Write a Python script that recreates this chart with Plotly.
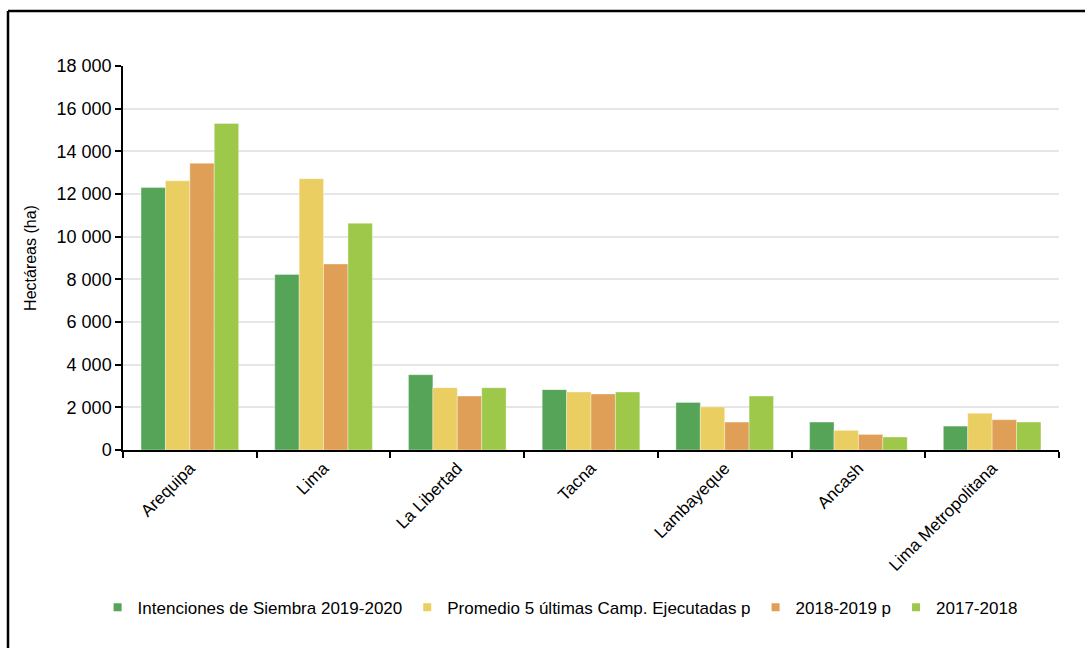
import plotly.graph_objects as go

categories = ["Arequipa", "Lima", "La Libertad", "Tacna", "Lambayeque", "Ancash", "Lima Metropolitana"]
intenciones_2019_2020 = [12300, 8230, 3530, 2830, 2230, 1310, 1120]
promedio_5_ultimas = [12620, 12720, 2920, 2720, 2020, 920, 1720]
campania_2018_2019 = [13440, 8720, 2530, 2630, 1310, 730, 1420]
campania_2017_2018 = [15310, 10630, 2920, 2720, 2530, 610, 1310]

series_names = ["Intenciones de Siembra 2019-2020", "Promedio 5 últimas Camp. Ejecutadas p",
                "2018-2019 p", "2017-2018"]
series_values = [intenciones_2019_2020, promedio_5_ultimas, campania_2018_2019, campania_2017_2018]
colors = ["#55A457", "#EACE62", "#E09F57", "#9DC84A"]

fig = go.Figure()
for name, vals, col in zip(series_names, series_values, colors):
    fig.add_trace(go.Bar(x=categories, y=vals, name=name, showlegend=False,
                         marker=dict(color=col, line=dict(color="rgba(255,255,255,0.6)", width=0.6))))
# legend entries with small square markers
for name, col in zip(series_names, colors):
    fig.add_trace(go.Scatter(x=[None], y=[None], mode="markers", name=name,
                             marker=dict(symbol="square", size=8, color=col)))

FONT = "Liberation Sans, Arial, sans-serif"
fig.update_layout(
    width=1085, height=648,
    margin=dict(l=123, r=26, t=66, b=198),
    paper_bgcolor="white", plot_bgcolor="white",
    barmode="group", bargap=0.27, bargroupgap=0,
    separators=". ",
    font=dict(family=FONT, size=17, color="#000000"),
    showlegend=True,
    legend=dict(orientation="h", x=0.467, xanchor="center", y=-0.411, yanchor="middle",
                font=dict(size=17), itemwidth=30, traceorder="normal", tracegroupgap=0),
    xaxis=dict(showline=True, linecolor="black", linewidth=1.5, ticks="outside", tickson="boundaries",
               ticklen=6, tickcolor="black", tickwidth=1.5, tickangle=-45, showgrid=False,
               tickfont=dict(size=17)),
    yaxis=dict(range=[0, 18000], dtick=2000, tickformat=",d", showline=True, linecolor="black",
               linewidth=1.5, ticks="outside", ticklen=6, tickcolor="black", tickwidth=1.5,
               showgrid=True, gridcolor="#e6e6e6", gridwidth=1.5, zeroline=False,
               title=dict(text="Hectáreas (ha)", font=dict(size=16), standoff=16),
               tickfont=dict(size=18)),
    shapes=[
        dict(type="line", xref="paper", yref="paper", x0=(8 - 123) / 936, x1=1.1, y0=(450 - 11) / 384, y1=(450 - 11) / 384,
             line=dict(color="black", width=2.5)),
        dict(type="line", xref="paper", yref="paper", x0=(8 - 123) / 936, x1=(8 - 123) / 936, y0=(450 - 11) / 384, y1=-1.0,
             line=dict(color="black", width=2.5)),
    ],
)

fig.write_html("out.html")
